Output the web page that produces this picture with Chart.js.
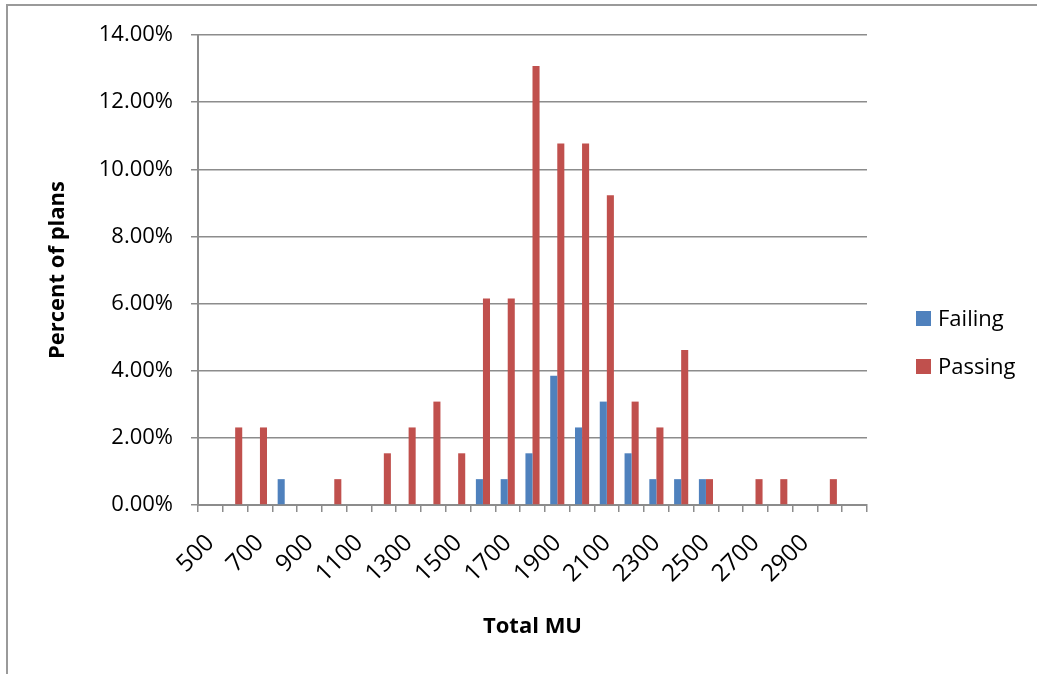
<!DOCTYPE html>
<html>
<head>
<meta charset="utf-8">
<script src="https://cdn.jsdelivr.net/npm/chart.js@4/dist/chart.umd.min.js"></script>
<style>
  html, body { margin: 0; padding: 0; background: #fff; }
  #wrap { position: relative; width: 1037px; height: 674px; overflow: hidden; }
  #frame { position: absolute; left: 6px; top: 4px; width: 1100px; height: 700px;
           border-top: 2px solid #9a9a9a; border-left: 2px solid #9a9a9a; }
  canvas { position: absolute; left: 0; top: 0; }
  .leg { position: absolute; left: 916px; font-family: "Open Sans", sans-serif; font-size: 22px;
         color: #000; line-height: 30px; height: 30px; white-space: nowrap; }
  .leg span.box { display: inline-block; width: 15px; height: 15px; vertical-align: middle;
                  margin-right: 7px; position: relative; top: -2px; }
</style>
</head>
<body>
<div id="wrap">
  <div id="frame"></div>
  <canvas id="c" width="1037" height="674"></canvas>
  <div class="leg" style="top:302px"><span class="box" style="background:#4F81BD"></span>Failing</div>
  <div class="leg" style="top:350px"><span class="box" style="background:#C0504D"></span>Passing</div>
</div>
<script>
const categories = ['500','600','700','800','900','1000','1100','1200','1300','1400','1500','1600','1700','1800','1900','2000','2100','2200','2300','2400','2500','2600','2700','2800','2900','3000','3100'];
const failing = [0,0,0,0.77,0,0,0,0,0,0,0,0.77,0.77,1.54,3.85,2.31,3.08,1.54,0.77,0.77,0.77,0,0,0,0,0,0];
const passing = [0,2.31,2.31,0,0,0.77,0,1.54,2.31,3.08,1.54,6.15,6.15,13.08,10.77,10.77,9.23,3.08,2.31,4.62,0.77,0,0.77,0.77,0,0.77,0];
const yTicks = [0,2,4,6,8,10,12,14];

const gridColor = '#8c8c8c';
const fontFam = '"Open Sans", sans-serif';

new Chart(document.getElementById('c'), {
  type: 'bar',
  data: {
    labels: categories,
    datasets: [
      { label: 'Failing', data: failing, backgroundColor: '#4F81BD', borderWidth: 0 },
      { label: 'Passing', data: passing, backgroundColor: '#C0504D', borderWidth: 0 }
    ]
  },
  options: {
    responsive: false,
    animation: false,
    devicePixelRatio: 1,
    categoryPercentage: 0.57,
    barPercentage: 1.0,
    layout: { padding: { left: 10, right: 170, top: 35, bottom: 20 } },
    plugins: { legend: { display: false }, tooltip: { enabled: false } },
    scales: {
      x: {
        grid: { display: true, drawOnChartArea: false, drawTicks: true, tickLength: 7, color: gridColor, lineWidth: 1.5, offset: true },
        border: { display: true, color: gridColor, width: 2 },
        ticks: {
          autoSkip: false, minRotation: 45, maxRotation: 45, padding: 17,
          color: '#000', font: { family: fontFam, size: 24 },
          callback: function(v, i) { return (i % 2 === 0 && i < 25) ? categories[i] : ''; }
        },
        title: { display: true, text: 'Total MU', color: '#000', font: { family: fontFam, size: 22, weight: 'bold' }, padding: { top: 0, bottom: 14 } },
        afterFit: function(s) { s.height = 149; }
      },
      y: {
        min: 0, max: 14,
        grid: { color: gridColor, lineWidth: 1.5, drawTicks: true, tickLength: 7 },
        border: { display: true, color: gridColor, width: 2 },
        afterBuildTicks: function(s) { s.ticks = yTicks.map(v => ({ value: v })); },
        ticks: {
          padding: 18, color: '#000', font: { family: fontFam, size: 22 },
          callback: function(v) { return v.toFixed(2) + '%'; }
        },
        title: { display: true, text: 'Percent of plans', color: '#000', font: { family: fontFam, size: 22, weight: 'bold' }, padding: { top: 35, bottom: 0 } },
        afterFit: function(s) { s.width = 188; }
      }
    }
  }
});
</script>
</body>
</html>
